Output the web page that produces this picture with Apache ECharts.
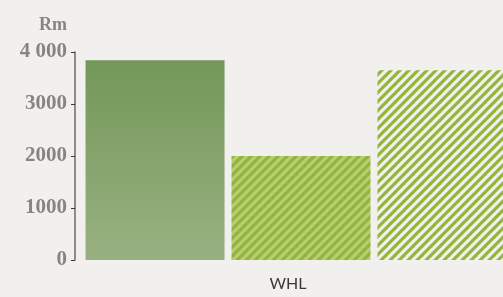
<!DOCTYPE html>
<html>
<head>
<meta charset="utf-8">
<script src="https://cdn.jsdelivr.net/npm/echarts@6/dist/echarts.min.js"></script>
<style>
  html, body { margin: 0; padding: 0; background: #f1f0ee; }
  #chart { width: 503px; height: 297px; }
</style>
</head>
<body>
<div id="chart"></div>
<script>
// data
const categories = ["WHL"]
const seriesNames = ["A", "B", "C"]
const seriesValues = [[3840], [2000], [3650]]
const yTicks = [0, 1000, 2000, 3000, 4000]
const yTickLabels = ["0", "1000", "2000", "3000", "4 000"]

// diagonal stripe tile used as a fill pattern
function stripes(fg, bg) {
  const n = 9
  const c = document.createElement("canvas")
  c.width = n
  c.height = n
  const ctx = c.getContext("2d")
  ctx.fillStyle = bg
  ctx.fillRect(0, 0, n, n)
  ctx.fillStyle = fg
  const w = n / 2
  for (const off of [-n, 0, n]) {
    ctx.beginPath()
    ctx.moveTo(off, n)
    ctx.lineTo(off + w, n)
    ctx.lineTo(off + n + w, 0)
    ctx.lineTo(off + n, 0)
    ctx.closePath()
    ctx.fill()
  }
  return { image: c, repeat: "repeat" }
}

const fills = [
  new echarts.graphic.LinearGradient(0, 0, 0, 1, [
    { offset: 0, color: "#739759" },
    { offset: 1, color: "#99b181" }
  ]),
  stripes("#93b53b", "#b6cf74"),
  stripes("#93b53b", "#f1f0ee")
]

const chart = echarts.init(document.getElementById("chart"))

// grid starts right of the axis so the bars sit where the reference has them;
// the y axis is pulled back left with offset
chart.setOption({
  backgroundColor: "#f1f0ee",
  animation: false,
  grid: {
    left: 99,
    right: 0,
    top: 52,
    bottom: 37,
    containLabel: false
  },
  xAxis: {
    type: "category",
    data: categories,
    axisLine: { show: false },
    axisTick: { show: false },
    axisLabel: {
      margin: 16,
      padding: [0, 26, 0, 0],
      color: "#3d3836",
      fontFamily: "Lato",
      fontSize: 16
    }
  },
  yAxis: {
    type: "value",
    min: 0,
    max: 4000,
    interval: 1000,
    offset: 24,
    name: "Rm",
    nameLocation: "end",
    nameGap: 18,
    nameTextStyle: {
      align: "right",
      padding: [0, 8, 0, 0],
      color: "#8a837f",
      fontFamily: "Liberation Serif",
      fontWeight: "bold",
      fontSize: 18
    },
    axisLine: { show: true, lineStyle: { color: "#6e6764", width: 1.5 } },
    axisTick: { show: true, length: 4, lineStyle: { color: "#3d3836" } },
    splitLine: { show: false },
    axisLabel: {
      margin: 8,
      color: "#8a837f",
      fontFamily: "Liberation Serif",
      fontWeight: "bold",
      fontSize: 21,
      formatter: v => yTickLabels[yTicks.indexOf(v)]
    }
  },
  series: seriesNames.map((name, i) => ({
    name: name,
    type: "bar",
    data: seriesValues[i],
    barWidth: 139,
    barGap: "5%",
    clip: false,
    itemStyle: { color: fills[i] }
  }))
})
</script>
</body>
</html>
